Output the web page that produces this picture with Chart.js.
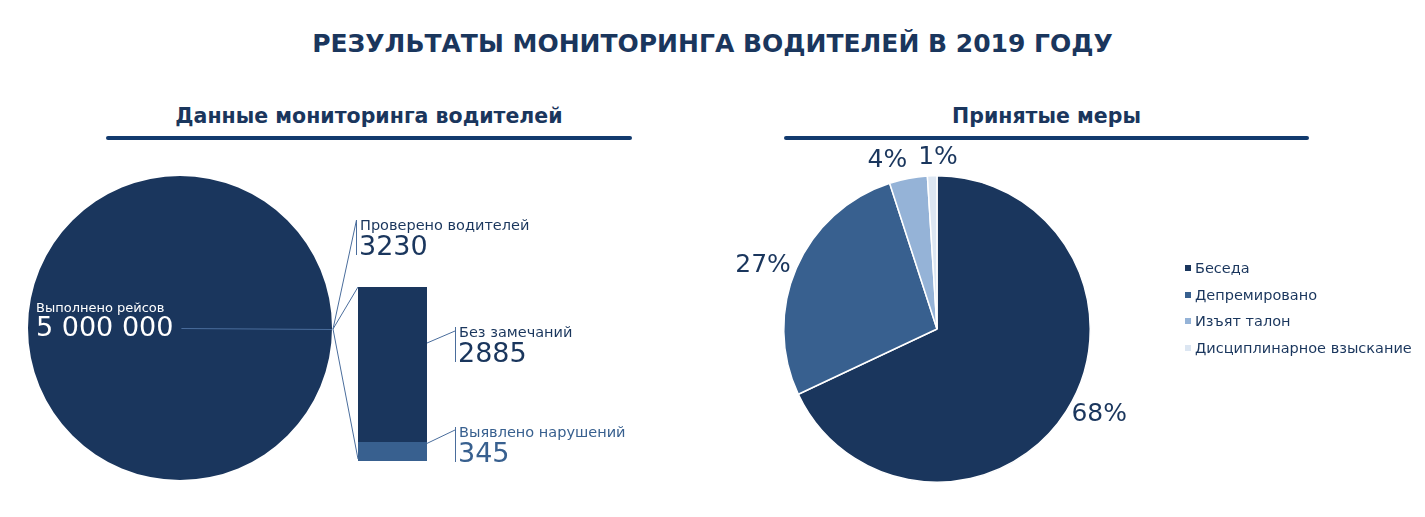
<!DOCTYPE html>
<html lang="ru">
<head>
<meta charset="utf-8">
<title>Результаты мониторинга водителей</title>
<script src="https://cdn.jsdelivr.net/npm/chart.js@4.4.1/dist/chart.umd.min.js"></script>
<style>
  html, body { margin: 0; padding: 0; background: #fff; }
  body { width: 1425px; height: 517px; position: relative; overflow: hidden; font-family: "DejaVu Sans", sans-serif; color: #1a365d; }
  .title { position: absolute; left: 0; width: 1425px; top: 29px; text-align: center; font-size: 25px; font-weight: bold; }
  .sub { position: absolute; top: 104px; text-align: center; font-size: 20.5px; font-weight: bold; }
  .rule { position: absolute; top: 136px; height: 4px; background: #123a6e; border-radius: 2px; }
  canvas { position: absolute; }
  #legend { position: absolute; left: 1185px; top: 255px; font-size: 14.5px; }
  #legend div { height: 26.7px; line-height: 26.7px; white-space: nowrap; }
  #legend span { display: inline-block; width: 6px; height: 6px; margin-right: 4px; vertical-align: middle; position: relative; top: -1px; }
</style>
</head>
<body>
<div class="title">РЕЗУЛЬТАТЫ МОНИТОРИНГА ВОДИТЕЛЕЙ В 2019 ГОДУ</div>
<div class="sub" style="left:106px;width:526px;">Данные мониторинга водителей</div>
<div class="rule" style="left:106px;width:526px;"></div>
<div class="sub" style="left:784px;width:525px;">Принятые меры</div>
<div class="rule" style="left:784px;width:525px;"></div>

<canvas id="tripsPie" width="640" height="367" style="left:0;top:150px;"></canvas>
<canvas id="driversBar" width="640" height="367" style="left:0;top:150px;"></canvas>
<canvas id="measuresPie" width="775" height="377" style="left:650px;top:140px;"></canvas>
<div id="legend"></div>

<script>
// --- data ---
const tripsLabel = 'Выполнено рейсов';
const tripsValue = 5000000;

const checkedLabel = 'Проверено водителей';
const checkedTotal = 3230;
const barLabels = ['Выявлено нарушений', 'Без замечаний'];   // bottom -> top
const barValues = [345, 2885];

const measureLabels = ['Беседа', 'Депремировано', 'Изъят талон', 'Дисциплинарное взыскание'];
const measureValues = [68, 27, 4, 1];

const navy = '#1a365d';
const blue = '#38608f';
const measureColors = ['#1a365d', '#38608f', '#95b3d7', '#dce6f2'];
const lineColor = '#4a6d9c';

const fontFamily = '"DejaVu Sans", sans-serif';

function fmtSpaces(n) {
    return String(n).replace(/\B(?=(\d{3})+(?!\d))/g, ' ');
}

// left: big circle with label inside
const tripsLabelPlugin = {
    id: 'tripsLabel',
    afterDraw(chart) {
        const arc = chart.getDatasetMeta(0).data[0];
        const ctx = chart.ctx;
        const left = arc.x - arc.outerRadius + 8;
        ctx.save();
        ctx.fillStyle = '#fff';
        ctx.textAlign = 'left';
        ctx.textBaseline = 'alphabetic';
        ctx.font = '13px ' + fontFamily;
        ctx.fillText(tripsLabel, left, arc.y - 16);
        ctx.font = '27px ' + fontFamily;
        const num = fmtSpaces(tripsValue);
        ctx.fillText(num, left, arc.y + 8);
        const w = ctx.measureText(num).width;
        ctx.strokeStyle = lineColor;
        ctx.lineWidth = 1;
        ctx.beginPath();
        ctx.moveTo(left + w + 8, arc.y + 0.5);
        ctx.lineTo(arc.x + arc.outerRadius, arc.y + 1.5);
        ctx.stroke();
        ctx.restore();
    }
};

const tripsPie = new Chart(document.getElementById('tripsPie'), {
    type: 'pie',
    data: {
        labels: [tripsLabel],
        datasets: [{ data: [tripsValue], backgroundColor: [navy], borderWidth: 0 }]
    },
    options: {
        responsive: false,
        animation: false,
        layout: { padding: { left: 28, right: 308, top: 26, bottom: 37 } },
        plugins: { legend: { display: false }, tooltip: { enabled: false } }
    },
    plugins: [tripsLabelPlugin]
});

// draws a label block with a vertical bracket line at its left
function labelBlock(ctx, x, top, label, value, color) {
    ctx.strokeStyle = lineColor;
    ctx.lineWidth = 1;
    ctx.beginPath();
    ctx.moveTo(x + 0.5, top);
    ctx.lineTo(x + 0.5, top + 35);
    ctx.stroke();
    ctx.fillStyle = color;
    ctx.textAlign = 'left';
    ctx.textBaseline = 'alphabetic';
    ctx.font = '14.5px ' + fontFamily;
    ctx.fillText(label, x + 4, top + 10);
    ctx.font = '27px ' + fontFamily;
    ctx.fillText(String(value), x + 3, top + 35);
}

function line(ctx, x1, y1, x2, y2) {
    ctx.beginPath();
    ctx.moveTo(x1, y1);
    ctx.lineTo(x2, y2);
    ctx.stroke();
}

const barLabelPlugin = {
    id: 'barLabels',
    afterDraw(chart) {
        const ctx = chart.ctx;
        const arc = tripsPie.getDatasetMeta(0).data[0];
        const bottomBar = chart.getDatasetMeta(0).data[0];
        const topBar = chart.getDatasetMeta(1).data[0];
        const barLeft = topBar.x - topBar.width / 2;
        const barRight = topBar.x + topBar.width / 2;
        const barTop = topBar.y;
        const barBottom = bottomBar.base;
        const edgeX = arc.x + arc.outerRadius + 1;
        const edgeY = arc.y + 1;

        ctx.save();
        // total block above the bar
        const totalTop = barTop - 67;
        labelBlock(ctx, barLeft - 2, totalTop, checkedLabel, checkedTotal, navy);
        ctx.strokeStyle = lineColor;
        ctx.lineWidth = 1;
        line(ctx, edgeX, edgeY, barLeft - 1.5, totalTop);
        line(ctx, edgeX, edgeY, barLeft, barTop);
        line(ctx, edgeX, edgeY, barLeft, barBottom - 2);

        // segment blocks right of the bar
        const bx = barRight + 28;
        const topBlock = barTop + 40;
        line(ctx, barRight, barTop + 56, bx, topBlock + 4);
        labelBlock(ctx, bx, topBlock, barLabels[1], barValues[1], navy);

        const lowBlock = barBottom - 34;
        line(ctx, barRight, bottomBar.y + 1, bx, lowBlock + 3);
        labelBlock(ctx, bx, lowBlock, barLabels[0], barValues[0], blue);
        ctx.restore();
    }
};

new Chart(document.getElementById('driversBar'), {
    type: 'bar',
    data: {
        labels: [checkedLabel],
        datasets: [
            { label: barLabels[0], data: [barValues[0]], backgroundColor: blue },
            { label: barLabels[1], data: [barValues[1]], backgroundColor: navy }
        ]
    },
    options: {
        responsive: false,
        animation: false,
        barPercentage: 1,
        categoryPercentage: 1,
        layout: { padding: { left: 358, right: 213, top: 137, bottom: 56 } },
        scales: {
            x: { display: false, stacked: true },
            y: { display: false, stacked: true, min: 0, max: checkedTotal }
        },
        plugins: { legend: { display: false }, tooltip: { enabled: false } }
    },
    plugins: [barLabelPlugin]
});

// right: measures pie with percent labels outside
const percentPlugin = {
    id: 'percentLabels',
    afterDraw(chart) {
        const ctx = chart.ctx;
        const meta = chart.getDatasetMeta(0);
        ctx.save();
        ctx.fillStyle = navy;
        ctx.font = '25px ' + fontFamily;
        meta.data.forEach((arc, i) => {
            const mid = (arc.startAngle + arc.endAngle) / 2;
            const dx = Math.cos(mid), dy = Math.sin(mid);
            const r = arc.outerRadius + 6;
            const x = arc.x + dx * r, y = arc.y + dy * r;
            if (dy < -0.995) ctx.textAlign = 'center';
            else ctx.textAlign = dx > 0 ? 'left' : 'right';
            ctx.textBaseline = dy < -0.7 ? 'bottom' : 'middle';
            ctx.fillText(measureValues[i] + '%', x + (dy < -0.995 ? 6 : 0), y);
        });
        ctx.restore();
    }
};

new Chart(document.getElementById('measuresPie'), {
    type: 'pie',
    data: {
        labels: measureLabels,
        datasets: [{ data: measureValues, backgroundColor: measureColors, borderColor: '#fff', borderWidth: 1.5 }]
    },
    options: {
        responsive: false,
        animation: false,
        layout: { padding: { left: 133, right: 334, top: 35, bottom: 34 } },
        plugins: { legend: { display: false }, tooltip: { enabled: false } }
    },
    plugins: [percentPlugin]
});

const legend = document.getElementById('legend');
measureLabels.forEach((label, i) => {
    const row = document.createElement('div');
    const box = document.createElement('span');
    box.style.background = measureColors[i];
    row.appendChild(box);
    row.appendChild(document.createTextNode(label));
    legend.appendChild(row);
});
</script>
</body>
</html>
